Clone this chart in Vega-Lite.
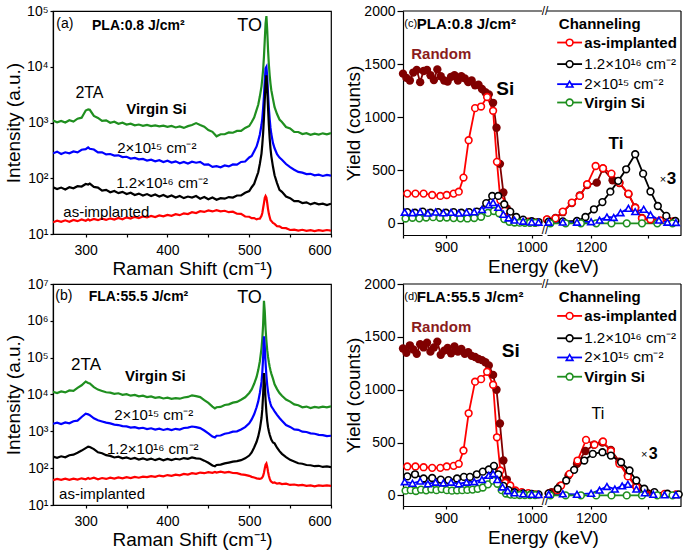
{
"$schema": "https://vega.github.io/schema/vega-lite/v6.json",
"padding": {"left": 3, "top": 3, "right": 0, "bottom": 0},
"autosize": {"type": "pad"},
"background": "white",
"config": {
  "font": "Liberation Sans",
  "view": {"stroke": null},
  "axis": {"grid": false, "labelFontSize": 14, "titleFontSize": 19, "titleFontWeight": "normal", "labelColor": "black", "titleColor": "black", "domainColor": "black", "tickColor": "black", "domainWidth": 1.2, "tickWidth": 1.2, "labelFont": "Liberation Sans", "titleFont": "Liberation Sans"},
  "text": {"color": "black", "font": "Liberation Sans"}
},
"resolve": {"scale": {"color": "independent"}},
"datasets": {
  "ramanA": [
    {"x":260,"g":1080,"b":280,"k":69,"r":16.2},{"x":265,"g":1010,"b":300,"k":64,"r":17.3},{"x":270,"g":1070,"b":272,"k":68,"r":16.5},{"x":275,"g":1000,"b":292,"k":63,"r":17.6},{"x":280,"g":1100,"b":280,"k":69,"r":16.6},{"x":285,"g":1040,"b":302,"k":66,"r":17.9},{"x":290,"g":1170,"b":292,"k":72,"r":17.0},{"x":295,"g":1220,"b":325,"k":71,"r":18.2},{"x":300,"g":1640,"b":332,"k":79,"r":17.3},{"x":303,"g":1720,"b":358,"k":77,"r":18.4},{"x":305,"g":1690,"b":338,"k":80,"r":17.5},{"x":310,"g":1310,"b":328,"k":70,"r":18.6},{"x":315,"g":1210,"b":292,"k":68,"r":17.7},{"x":320,"g":1070,"b":292,"k":60,"r":18.9},{"x":325,"g":1090,"b":268,"k":62,"r":17.9},{"x":330,"g":990,"b":272,"k":56,"r":19.1},{"x":335,"g":1030,"b":255,"k":59,"r":18.1},{"x":340,"g":950,"b":258,"k":54,"r":19.4},{"x":345,"g":990,"b":240,"k":57,"r":18.4},{"x":350,"g":920,"b":243,"k":52,"r":19.9},{"x":355,"g":950,"b":226,"k":55,"r":18.9},{"x":360,"g":890,"b":232,"k":50,"r":20.3},{"x":365,"g":920,"b":218,"k":53,"r":19.3},{"x":370,"g":870,"b":222,"k":49,"r":20.6},{"x":375,"g":905,"b":208,"k":52,"r":19.8},{"x":380,"g":860,"b":216,"k":48,"r":21.1},{"x":385,"g":890,"b":202,"k":51,"r":20.2},{"x":390,"g":850,"b":211,"k":47,"r":21.6},{"x":395,"g":880,"b":196,"k":50,"r":20.7},{"x":400,"g":835,"b":206,"k":46,"r":22.0},{"x":405,"g":865,"b":191,"k":49,"r":21.2},{"x":410,"g":815,"b":201,"k":45,"r":22.6},{"x":415,"g":850,"b":186,"k":48,"r":21.8},{"x":420,"g":800,"b":196,"k":44,"r":23.5},{"x":425,"g":860,"b":184,"k":47,"r":22.8},{"x":430,"g":900,"b":198,"k":45,"r":24.6},{"x":435,"g":975,"b":190,"k":48,"r":23.8},{"x":440,"g":900,"b":196,"k":43,"r":25.6},{"x":445,"g":840,"b":175,"k":46,"r":24.9},{"x":450,"g":730,"b":177,"k":42,"r":26.5},{"x":455,"g":680,"b":160,"k":45,"r":25.4},{"x":460,"g":565,"b":165,"k":41,"r":26.7},{"x":465,"g":615,"b":157,"k":44,"r":25.5},{"x":470,"g":615,"b":170,"k":43,"r":26.1},{"x":475,"g":665,"b":163,"k":46,"r":24.6},{"x":480,"g":655,"b":177,"k":45,"r":25.1},{"x":485,"g":705,"b":175,"k":49,"r":23.1},{"x":490,"g":705,"b":196,"k":49,"r":23.0},{"x":495,"g":800,"b":200,"k":55,"r":20.6},{"x":500,"g":865,"b":236,"k":59,"r":20.4},{"x":503,"g":1020,"b":250,"k":69,"r":19.2},{"x":506,"g":1230,"b":306,"k":79,"r":19.3},{"x":509,"g":1680,"b":372,"k":106,"r":18.3},{"x":511,"g":2080,"b":468,"k":128,"r":18.8},{"x":513,"g":2950,"b":610,"k":182,"r":18.9},{"x":515,"g":4450,"b":910,"k":277,"r":21.2},{"x":516,"g":6100,"b":1190,"k":405,"r":23.8},{"x":517,"g":8900,"b":1820,"k":645,"r":29.3},{"x":518,"g":15200,"b":2980,"k":1210,"r":35.6},{"x":519,"g":30000,"b":5500,"k":2500,"r":44.4},{"x":520,"g":60000,"b":9400,"k":5000,"r":48.0},{"x":521,"g":81000,"b":10000,"k":7000,"r":45.0},{"x":522,"g":45000,"b":6500,"k":4000,"r":36.0},{"x":523,"g":20000,"b":3200,"k":1800,"r":28.0},{"x":524,"g":11000,"b":1800,"k":900,"r":23.0},{"x":525,"g":7000,"b":1150,"k":520,"r":20.2},{"x":526,"g":5000,"b":800,"k":340,"r":17.8},{"x":527,"g":3800,"b":620,"k":250,"r":17.2},{"x":529,"g":2650,"b":430,"k":162,"r":15.8},{"x":531,"g":1880,"b":345,"k":113,"r":15.2},{"x":534,"g":1420,"b":270,"k":82,"r":13.8},{"x":537,"g":1130,"b":235,"k":62,"r":13.7},{"x":540,"g":1020,"b":215,"k":57,"r":12.8},{"x":545,"g":830,"b":180,"k":47,"r":12.7},{"x":550,"g":780,"b":158,"k":44,"r":11.8},{"x":555,"g":680,"b":142,"k":39,"r":12.0},{"x":560,"g":675,"b":130,"k":39,"r":11.5},{"x":565,"g":620,"b":126,"k":36,"r":11.9},{"x":570,"g":645,"b":119,"k":37,"r":11.4},{"x":575,"g":600,"b":120,"k":34,"r":11.7},{"x":580,"g":630,"b":113,"k":36,"r":11.3},{"x":585,"g":605,"b":116,"k":34,"r":11.7},{"x":590,"g":640,"b":110,"k":35,"r":11.4},{"x":595,"g":615,"b":115,"k":33,"r":11.8},{"x":600,"g":645,"b":111,"k":35,"r":11.5}
  ],
  "ramanB": [
    {"x":260,"g":11800,"b":1600,"k":205,"r":47},{"x":265,"g":10900,"b":1720,"k":192,"r":51},{"x":270,"g":12100,"b":1580,"k":210,"r":48},{"x":275,"g":11400,"b":1750,"k":198,"r":52},{"x":280,"g":12900,"b":1650,"k":225,"r":48},{"x":285,"g":12600,"b":1880,"k":232,"r":52},{"x":290,"g":15200,"b":1950,"k":262,"r":49},{"x":295,"g":17800,"b":2450,"k":300,"r":53},{"x":300,"g":22500,"b":3000,"k":350,"r":50},{"x":303,"g":20500,"b":2900,"k":385,"r":54},{"x":305,"g":20000,"b":2750,"k":375,"r":51},{"x":310,"g":15800,"b":2250,"k":330,"r":55},{"x":315,"g":13600,"b":2000,"k":270,"r":50},{"x":320,"g":12500,"b":1850,"k":255,"r":54},{"x":325,"g":11500,"b":1720,"k":225,"r":51},{"x":330,"g":11200,"b":1640,"k":215,"r":55},{"x":335,"g":10400,"b":1520,"k":195,"r":52},{"x":340,"g":10800,"b":1480,"k":205,"r":56},{"x":345,"g":9800,"b":1380,"k":185,"r":53},{"x":350,"g":10200,"b":1360,"k":195,"r":57},{"x":355,"g":9300,"b":1260,"k":178,"r":54},{"x":360,"g":9700,"b":1300,"k":190,"r":58},{"x":365,"g":8900,"b":1200,"k":172,"r":55},{"x":370,"g":9300,"b":1250,"k":185,"r":59},{"x":375,"g":8500,"b":1150,"k":168,"r":57},{"x":380,"g":8900,"b":1210,"k":182,"r":61},{"x":385,"g":8100,"b":1110,"k":165,"r":58},{"x":390,"g":8500,"b":1180,"k":180,"r":63},{"x":395,"g":7800,"b":1090,"k":163,"r":60},{"x":400,"g":8200,"b":1160,"k":178,"r":65},{"x":405,"g":7600,"b":1080,"k":165,"r":62},{"x":410,"g":8000,"b":1170,"k":180,"r":67},{"x":415,"g":7700,"b":1120,"k":172,"r":64},{"x":420,"g":8300,"b":1230,"k":188,"r":70},{"x":425,"g":8600,"b":1260,"k":180,"r":67},{"x":430,"g":9500,"b":1350,"k":195,"r":73},{"x":435,"g":9000,"b":1300,"k":185,"r":70},{"x":440,"g":8500,"b":1220,"k":180,"r":76},{"x":445,"g":7000,"b":1050,"k":160,"r":73},{"x":450,"g":5900,"b":880,"k":140,"r":78},{"x":455,"g":4700,"b":720,"k":118,"r":75},{"x":458,"g":4200,"b":680,"k":112,"r":79},{"x":460,"g":4500,"b":760,"k":122,"r":76},{"x":465,"g":4600,"b":770,"k":125,"r":80},{"x":470,"g":5200,"b":860,"k":135,"r":76},{"x":475,"g":5400,"b":900,"k":142,"r":79},{"x":480,"g":6000,"b":980,"k":150,"r":74},{"x":485,"g":6300,"b":1000,"k":155,"r":73},{"x":490,"g":7200,"b":1120,"k":165,"r":68},{"x":495,"g":8400,"b":1300,"k":185,"r":66},{"x":500,"g":11000,"b":1650,"k":220,"r":62},{"x":503,"g":13800,"b":2100,"k":268,"r":58},{"x":506,"g":19500,"b":2900,"k":365,"r":56},{"x":509,"g":30000,"b":4500,"k":520,"r":53},{"x":511,"g":46000,"b":6500,"k":730,"r":52},{"x":513,"g":80000,"b":11000,"k":1150,"r":51},{"x":515,"g":180000,"b":22000,"k":2300,"r":53},{"x":516,"g":330000,"b":40000,"k":4000,"r":56},{"x":517,"g":800000,"b":100000,"k":10000,"r":62},{"x":518,"g":3500000,"b":380000,"k":38000,"r":75},{"x":519,"g":1800000,"b":200000,"k":20000,"r":98},{"x":520,"g":600000,"b":70000,"k":7000,"r":125},{"x":521,"g":280000,"b":32000,"k":3300,"r":135},{"x":522,"g":160000,"b":18000,"k":1900,"r":110},{"x":523,"g":105000,"b":12000,"k":1300,"r":80},{"x":524,"g":75000,"b":8600,"k":1000,"r":62},{"x":525,"g":57000,"b":6800,"k":820,"r":52},{"x":526,"g":45000,"b":5600,"k":700,"r":46},{"x":527,"g":37000,"b":4800,"k":600,"r":43},{"x":529,"g":27000,"b":4100,"k":500,"r":40},{"x":531,"g":19000,"b":3500,"k":470,"r":41},{"x":534,"g":14000,"b":2800,"k":360,"r":38},{"x":537,"g":11000,"b":2300,"k":290,"r":39},{"x":540,"g":9200,"b":1950,"k":245,"r":37},{"x":545,"g":7300,"b":1480,"k":200,"r":38},{"x":550,"g":6400,"b":1320,"k":168,"r":35},{"x":555,"g":5400,"b":1130,"k":152,"r":36},{"x":560,"g":5100,"b":1100,"k":136,"r":34},{"x":565,"g":4500,"b":980,"k":132,"r":35},{"x":570,"g":4700,"b":960,"k":122,"r":33},{"x":575,"g":4300,"b":880,"k":120,"r":34},{"x":580,"g":4600,"b":860,"k":113,"r":32},{"x":585,"g":4400,"b":800,"k":116,"r":34},{"x":590,"g":4700,"b":790,"k":108,"r":33},{"x":595,"g":4500,"b":740,"k":112,"r":34},{"x":600,"g":4800,"b":760,"k":106,"r":33}
  ],
  "cSi": [
    {"s":"rnd","e":850,"v":1410},{"s":"rnd","e":854,"v":1370},{"s":"rnd","e":858,"v":1345},{"s":"rnd","e":862,"v":1420},{"s":"rnd","e":866,"v":1445},{"s":"rnd","e":870,"v":1330},{"s":"rnd","e":874,"v":1435},{"s":"rnd","e":878,"v":1445},{"s":"rnd","e":882,"v":1395},{"s":"rnd","e":886,"v":1350},{"s":"rnd","e":890,"v":1450},{"s":"rnd","e":894,"v":1385},{"s":"rnd","e":898,"v":1345},{"s":"rnd","e":902,"v":1335},{"s":"rnd","e":906,"v":1380},{"s":"rnd","e":910,"v":1395},{"s":"rnd","e":914,"v":1345},{"s":"rnd","e":918,"v":1385},{"s":"rnd","e":922,"v":1365},{"s":"rnd","e":926,"v":1330},{"s":"rnd","e":930,"v":1345},{"s":"rnd","e":934,"v":1300},{"s":"rnd","e":938,"v":1305},{"s":"rnd","e":942,"v":1265},{"s":"rnd","e":946,"v":1235},{"s":"rnd","e":950,"v":1215},{"s":"rnd","e":955,"v":1135},{"s":"rnd","e":959,"v":900},{"s":"rnd","e":963,"v":560},{"s":"rnd","e":967,"v":290},{"s":"rnd","e":971,"v":140},{"s":"rnd","e":975,"v":75},
    {"s":"r","e":855,"v":280},{"s":"r","e":864.5,"v":280},{"s":"r","e":874,"v":280},{"s":"r","e":884,"v":267},{"s":"r","e":893.5,"v":258},{"s":"r","e":901,"v":267},{"s":"r","e":909,"v":280},{"s":"r","e":915,"v":298},{"s":"r","e":920.5,"v":431},{"s":"r","e":926.5,"v":783},{"s":"r","e":934,"v":1085},{"s":"r","e":941,"v":1100},{"s":"r","e":948,"v":1190},{"s":"r","e":955,"v":1060},{"s":"r","e":959.5,"v":579},{"s":"r","e":963.5,"v":217},{"s":"r","e":968.5,"v":120},{"s":"r","e":975,"v":60},{"s":"r","e":981,"v":40},{"s":"r","e":988.5,"v":22},{"s":"r","e":996,"v":15},{"s":"r","e":1004,"v":8},
    {"s":"k","e":855,"v":105},{"s":"k","e":864,"v":100},{"s":"k","e":873,"v":110},{"s":"k","e":882,"v":100},{"s":"k","e":891,"v":105},{"s":"k","e":900,"v":100},{"s":"k","e":909,"v":105},{"s":"k","e":918,"v":100},{"s":"k","e":927,"v":105},{"s":"k","e":936,"v":110},{"s":"k","e":947,"v":190},{"s":"k","e":954,"v":258},{"s":"k","e":961,"v":258},{"s":"k","e":968,"v":180},{"s":"k","e":975,"v":110},{"s":"k","e":982,"v":60},{"s":"k","e":990,"v":35},{"s":"k","e":1000,"v":20},{"s":"k","e":1008,"v":12},
    {"s":"b","e":852,"v":105},{"s":"b","e":861,"v":100},{"s":"b","e":870,"v":108},{"s":"b","e":879,"v":96},{"s":"b","e":888,"v":106},{"s":"b","e":897,"v":99},{"s":"b","e":906,"v":103},{"s":"b","e":915,"v":96},{"s":"b","e":924,"v":104},{"s":"b","e":933,"v":108},{"s":"b","e":942,"v":130},{"s":"b","e":950,"v":175},{"s":"b","e":955,"v":195},{"s":"b","e":961,"v":150},{"s":"b","e":967,"v":85},{"s":"b","e":973,"v":50},{"s":"b","e":980,"v":30},{"s":"b","e":990,"v":20},{"s":"b","e":1000,"v":12},{"s":"b","e":1008,"v":10},
    {"s":"g","e":853,"v":45},{"s":"g","e":861,"v":52},{"s":"g","e":869,"v":47},{"s":"g","e":877,"v":55},{"s":"g","e":885,"v":58},{"s":"g","e":893,"v":52},{"s":"g","e":901,"v":55},{"s":"g","e":909,"v":49},{"s":"g","e":917,"v":47},{"s":"g","e":925,"v":46},{"s":"g","e":933,"v":50},{"s":"g","e":941,"v":62},{"s":"g","e":949,"v":98},{"s":"g","e":956,"v":116},{"s":"g","e":962,"v":95},{"s":"g","e":968,"v":40},{"s":"g","e":974,"v":15},{"s":"g","e":980,"v":8},{"s":"g","e":986,"v":6},{"s":"g","e":992,"v":5},{"s":"g","e":998,"v":4},{"s":"g","e":1004,"v":4}
  ],
  "cTi": [
    {"s":"rnd","e":1122,"v":35},{"s":"rnd","e":1137,"v":50},{"s":"rnd","e":1150,"v":105},{"s":"rnd","e":1166,"v":190},{"s":"rnd","e":1180,"v":262},{"s":"rnd","e":1193,"v":360},{"s":"rnd","e":1210,"v":383},{"s":"rnd","e":1221,"v":515},{"s":"rnd","e":1238,"v":405},{"s":"rnd","e":1250,"v":380},{"s":"rnd","e":1266,"v":275},{"s":"rnd","e":1278,"v":150},{"s":"rnd","e":1290,"v":50},{"s":"rnd","e":1305,"v":35},
    {"s":"r","e":1122,"v":38},{"s":"r","e":1137,"v":47},{"s":"r","e":1150,"v":110},{"s":"r","e":1166,"v":195},{"s":"r","e":1180,"v":258},{"s":"r","e":1193,"v":368},{"s":"r","e":1208,"v":540},{"s":"r","e":1221,"v":519},{"s":"r","e":1236,"v":468},{"s":"r","e":1250,"v":383},{"s":"r","e":1266,"v":279},{"s":"r","e":1278,"v":147},{"s":"r","e":1290,"v":47},{"s":"r","e":1305,"v":38},{"s":"r","e":1322,"v":28},{"s":"r","e":1346,"v":20},
    {"s":"k","e":1125,"v":15},{"s":"k","e":1150,"v":18},{"s":"k","e":1175,"v":22},{"s":"k","e":1190,"v":60},{"s":"k","e":1205,"v":132},{"s":"k","e":1220,"v":200},{"s":"k","e":1234,"v":298},{"s":"k","e":1248,"v":400},{"s":"k","e":1262,"v":509},{"s":"k","e":1278,"v":651},{"s":"k","e":1292,"v":468},{"s":"k","e":1305,"v":300},{"s":"k","e":1318,"v":163},{"s":"k","e":1333,"v":70},{"s":"k","e":1349,"v":22},
    {"s":"b","e":1125,"v":10},{"s":"b","e":1150,"v":12},{"s":"b","e":1175,"v":10},{"s":"b","e":1200,"v":15},{"s":"b","e":1215,"v":30},{"s":"b","e":1228,"v":60},{"s":"b","e":1240,"v":55},{"s":"b","e":1252,"v":100},{"s":"b","e":1266,"v":141},{"s":"b","e":1278,"v":110},{"s":"b","e":1293,"v":132},{"s":"b","e":1305,"v":80},{"s":"b","e":1320,"v":30},{"s":"b","e":1335,"v":10},{"s":"b","e":1350,"v":8},
    {"s":"g","e":1128,"v":0},{"s":"g","e":1155,"v":0},{"s":"g","e":1182,"v":0},{"s":"g","e":1209,"v":0},{"s":"g","e":1236,"v":0},{"s":"g","e":1263,"v":0},{"s":"g","e":1290,"v":0},{"s":"g","e":1317,"v":0},{"s":"g","e":1344,"v":0}
  ],
  "dSi": [
    {"s":"rnd","e":850,"v":1390},{"s":"rnd","e":854,"v":1350},{"s":"rnd","e":858,"v":1420},{"s":"rnd","e":862,"v":1380},{"s":"rnd","e":866,"v":1340},{"s":"rnd","e":870,"v":1430},{"s":"rnd","e":874,"v":1400},{"s":"rnd","e":878,"v":1445},{"s":"rnd","e":882,"v":1360},{"s":"rnd","e":886,"v":1400},{"s":"rnd","e":890,"v":1455},{"s":"rnd","e":894,"v":1330},{"s":"rnd","e":898,"v":1370},{"s":"rnd","e":902,"v":1395},{"s":"rnd","e":906,"v":1345},{"s":"rnd","e":910,"v":1410},{"s":"rnd","e":914,"v":1360},{"s":"rnd","e":918,"v":1385},{"s":"rnd","e":922,"v":1340},{"s":"rnd","e":926,"v":1355},{"s":"rnd","e":930,"v":1320},{"s":"rnd","e":934,"v":1310},{"s":"rnd","e":938,"v":1290},{"s":"rnd","e":942,"v":1280},{"s":"rnd","e":946,"v":1260},{"s":"rnd","e":950,"v":1230},{"s":"rnd","e":955,"v":1140},{"s":"rnd","e":959,"v":1000},{"s":"rnd","e":963,"v":680},{"s":"rnd","e":967,"v":330},{"s":"rnd","e":971,"v":150},{"s":"rnd","e":975,"v":70},
    {"s":"r","e":855,"v":274},{"s":"r","e":864.5,"v":274},{"s":"r","e":874,"v":267},{"s":"r","e":884,"v":261},{"s":"r","e":893.5,"v":261},{"s":"r","e":901,"v":274},{"s":"r","e":909,"v":280},{"s":"r","e":915,"v":299},{"s":"r","e":920.5,"v":425},{"s":"r","e":926.5,"v":777},{"s":"r","e":934,"v":1076},{"s":"r","e":941,"v":1100},{"s":"r","e":948,"v":1170},{"s":"r","e":955,"v":1047},{"s":"r","e":959.5,"v":550},{"s":"r","e":963.5,"v":236},{"s":"r","e":969,"v":120},{"s":"r","e":975,"v":94},{"s":"r","e":981,"v":47},{"s":"r","e":988.5,"v":31},{"s":"r","e":996,"v":22},{"s":"r","e":1004,"v":9},
    {"s":"k","e":855,"v":180},{"s":"k","e":864,"v":200},{"s":"k","e":874,"v":160},{"s":"k","e":884,"v":165},{"s":"k","e":894,"v":150},{"s":"k","e":903,"v":145},{"s":"k","e":913,"v":160},{"s":"k","e":921,"v":175},{"s":"k","e":928,"v":175},{"s":"k","e":936,"v":200},{"s":"k","e":943,"v":225},{"s":"k","e":950,"v":245},{"s":"k","e":956,"v":280},{"s":"k","e":961,"v":200},{"s":"k","e":967,"v":90},{"s":"k","e":973,"v":50},{"s":"k","e":980,"v":30},{"s":"k","e":990,"v":20},{"s":"k","e":1000,"v":15},{"s":"k","e":1008,"v":10},
    {"s":"b","e":852,"v":130},{"s":"b","e":861,"v":115},{"s":"b","e":870,"v":135},{"s":"b","e":879,"v":110},{"s":"b","e":888,"v":125},{"s":"b","e":897,"v":118},{"s":"b","e":906,"v":125},{"s":"b","e":915,"v":110},{"s":"b","e":924,"v":125},{"s":"b","e":933,"v":130},{"s":"b","e":942,"v":150},{"s":"b","e":950,"v":190},{"s":"b","e":955,"v":205},{"s":"b","e":960,"v":150},{"s":"b","e":966,"v":80},{"s":"b","e":972,"v":45},{"s":"b","e":980,"v":25},{"s":"b","e":990,"v":15},{"s":"b","e":1000,"v":10},{"s":"b","e":1008,"v":8},
    {"s":"g","e":853,"v":45},{"s":"g","e":859,"v":50},{"s":"g","e":865,"v":42},{"s":"g","e":871,"v":55},{"s":"g","e":877,"v":48},{"s":"g","e":883,"v":58},{"s":"g","e":889,"v":50},{"s":"g","e":895,"v":60},{"s":"g","e":901,"v":50},{"s":"g","e":907,"v":45},{"s":"g","e":913,"v":48},{"s":"g","e":919,"v":50},{"s":"g","e":925,"v":52},{"s":"g","e":931,"v":55},{"s":"g","e":937,"v":62},{"s":"g","e":943,"v":75},{"s":"g","e":949,"v":105},{"s":"g","e":955,"v":140},{"s":"g","e":960,"v":110},{"s":"g","e":965,"v":50},{"s":"g","e":970,"v":18},{"s":"g","e":975,"v":8},{"s":"g","e":980,"v":5},{"s":"g","e":986,"v":4},{"s":"g","e":992,"v":4},{"s":"g","e":998,"v":4},{"s":"g","e":1004,"v":4}
  ],
  "dTi": [
    {"s":"rnd","e":1130,"v":30},{"s":"rnd","e":1145,"v":90},{"s":"rnd","e":1160,"v":190},{"s":"rnd","e":1175,"v":300},{"s":"rnd","e":1190,"v":420},{"s":"rnd","e":1205,"v":480},{"s":"rnd","e":1220,"v":500},{"s":"rnd","e":1235,"v":430},{"s":"rnd","e":1250,"v":320},{"s":"rnd","e":1265,"v":190},{"s":"rnd","e":1280,"v":90},{"s":"rnd","e":1295,"v":40},{"s":"rnd","e":1310,"v":20},
    {"s":"r","e":1125,"v":20},{"s":"r","e":1140,"v":50},{"s":"r","e":1147,"v":94},{"s":"r","e":1162,"v":204},{"s":"r","e":1176,"v":330},{"s":"r","e":1191,"v":525},{"s":"r","e":1206,"v":480},{"s":"r","e":1221,"v":510},{"s":"r","e":1235,"v":420},{"s":"r","e":1250,"v":300},{"s":"r","e":1265,"v":180},{"s":"r","e":1280,"v":80},{"s":"r","e":1294,"v":31},{"s":"r","e":1310,"v":20},{"s":"r","e":1330,"v":15},{"s":"r","e":1350,"v":10},
    {"s":"k","e":1125,"v":20},{"s":"k","e":1141,"v":63},{"s":"k","e":1156,"v":141},{"s":"k","e":1170,"v":242},{"s":"k","e":1188,"v":330},{"s":"k","e":1203,"v":393},{"s":"k","e":1220,"v":409},{"s":"k","e":1235,"v":377},{"s":"k","e":1253,"v":314},{"s":"k","e":1268,"v":236},{"s":"k","e":1280,"v":141},{"s":"k","e":1294,"v":63},{"s":"k","e":1312,"v":31},{"s":"k","e":1335,"v":16},{"s":"k","e":1355,"v":10},
    {"s":"b","e":1125,"v":10},{"s":"b","e":1150,"v":15},{"s":"b","e":1175,"v":10},{"s":"b","e":1200,"v":20},{"s":"b","e":1215,"v":50},{"s":"b","e":1228,"v":85},{"s":"b","e":1242,"v":60},{"s":"b","e":1255,"v":90},{"s":"b","e":1265,"v":105},{"s":"b","e":1280,"v":60},{"s":"b","e":1295,"v":25},{"s":"b","e":1310,"v":10},{"s":"b","e":1330,"v":5},{"s":"b","e":1350,"v":5},
    {"s":"g","e":1128,"v":0},{"s":"g","e":1155,"v":0},{"s":"g","e":1182,"v":0},{"s":"g","e":1209,"v":0},{"s":"g","e":1236,"v":0},{"s":"g","e":1263,"v":0},{"s":"g","e":1290,"v":0},{"s":"g","e":1317,"v":0},{"s":"g","e":1344,"v":0}
  ]
},
"columns": 4,
"bounds": "flush",
"spacing": {"row": 49, "column": 5},
"concat": [
  {
    "width": 278, "height": 223,
    "view": {"stroke": "black", "strokeWidth": 1.2},
    "layer": [
      {"data": {"name": "ramanA"}, "transform": [{"fold": ["g","b","k","r"], "as": ["s","I"]}],
       "mark": {"type": "line", "strokeWidth": 2.2, "clip": true},
       "encoding": {
         "x": {"field": "x", "type": "quantitative", "scale": {"domain": [260,600], "nice": false, "zero": false},
               "axis": {"values": [300,350,400,450,500,550,600], "labelExpr": "datum.value % 100 == 0 ? datum.label : ''", "tickSize": 3, "labelPadding": 6, "title": "Raman Shift (cm⁻¹)", "titlePadding": 2, "format": "d"}},
         "y": {"field": "I", "type": "quantitative", "scale": {"type": "log", "domain": [10,100000], "nice": false},
               "axis": {"values": [10,100,1000,10000,100000], "labelExpr": "datum.value > 5e6 ? '10⁷' : datum.value > 5e5 ? '10⁶' : datum.value > 5e4 ? '10⁵' : datum.value > 5e3 ? '10⁴' : datum.value > 500 ? '10³' : datum.value > 50 ? '10²' : '10¹'", "tickSize": 3, "labelPadding": 2, "title": "Intensity (a.u.)", "titlePadding": 3}},
         "color": {"field": "s", "type": "nominal", "scale": {"domain": ["rnd","r","k","b","g"], "range": ["#800000","#ff0000","#000000","#0000ff","#1f8f1f"]}, "legend": null}
       }},
      {"data": {"values": [{"x": 264, "I": 58000, "t": "(a)"}]},
       "mark": {"type": "text", "align": "left", "baseline": "middle", "fontSize": 14},
       "encoding": {"x": {"field": "x", "type": "quantitative", "scale": {"domain": [260,600], "nice": false, "zero": false}}, "y": {"field": "I", "type": "quantitative", "scale": {"type": "log", "domain": [10,100000], "nice": false}}, "text": {"field": "t"}}},
      {"data": {"values": [{"x": 307.7, "I": 53700, "t": "PLA:0.8 J/cm²"}]},
       "mark": {"type": "text", "align": "left", "baseline": "middle", "fontSize": 14, "fontWeight": "bold"},
       "encoding": {"x": {"field": "x", "type": "quantitative", "scale": {"domain": [260,600], "nice": false, "zero": false}}, "y": {"field": "I", "type": "quantitative", "scale": {"type": "log", "domain": [10,100000], "nice": false}}, "text": {"field": "t"}}},
      {"data": {"values": [{"x": 500.4, "I": 53700, "t": "TO"}]},
       "mark": {"type": "text", "align": "center", "baseline": "middle", "fontSize": 18},
       "encoding": {"x": {"field": "x", "type": "quantitative", "scale": {"domain": [260,600], "nice": false, "zero": false}}, "y": {"field": "I", "type": "quantitative", "scale": {"type": "log", "domain": [10,100000], "nice": false}}, "text": {"field": "t"}}},
      {"data": {"values": [{"x": 304.6, "I": 3410, "t": "2TA"}]},
       "mark": {"type": "text", "align": "center", "baseline": "middle", "fontSize": 16},
       "encoding": {"x": {"field": "x", "type": "quantitative", "scale": {"domain": [260,600], "nice": false, "zero": false}}, "y": {"field": "I", "type": "quantitative", "scale": {"type": "log", "domain": [10,100000], "nice": false}}, "text": {"field": "t"}}},
      {"data": {"values": [{"x": 386.5, "I": 1720, "t": "Virgin Si"}]},
       "mark": {"type": "text", "align": "center", "baseline": "middle", "fontSize": 15, "fontWeight": "bold"},
       "encoding": {"x": {"field": "x", "type": "quantitative", "scale": {"domain": [260,600], "nice": false, "zero": false}}, "y": {"field": "I", "type": "quantitative", "scale": {"type": "log", "domain": [10,100000], "nice": false}}, "text": {"field": "t"}}},
      {"data": {"values": [{"x": 387, "I": 352, "t": "2×10¹⁵ cm⁻²"}, {"x": 393.4, "I": 82.6, "t": "1.2×10¹⁶ cm⁻²"}, {"x": 325.2, "I": 24.8, "t": "as-implanted"}]},
       "mark": {"type": "text", "align": "center", "baseline": "middle", "fontSize": 15},
       "encoding": {"x": {"field": "x", "type": "quantitative", "scale": {"domain": [260,600], "nice": false, "zero": false}}, "y": {"field": "I", "type": "quantitative", "scale": {"type": "log", "domain": [10,100000], "nice": false}}, "text": {"field": "t"}}}
    ]
  },
  {"width": 62, "height": 224, "data": {"values": [{}]}, "mark": {"type": "point", "opacity": 0}},
  {
    "width": 139, "height": 224,
    "layer": [
      {"data": {"name": "cSi"}, "mark": {"type": "line", "strokeWidth": 1.8},
       "encoding": {
         "x": {"field": "e", "type": "quantitative", "scale": {"domain": [850,1012], "nice": false, "zero": false},
               "axis": {"values": [850,900,950,1000], "labelExpr": "datum.value == 900 || datum.value == 1000 ? datum.label : ''", "tickSize": 3, "labelPadding": 2, "title": "Energy (keV)", "titleX": 140, "titleAlign": "center", "titlePadding": 3, "format": "d"}},
         "y": {"field": "v", "type": "quantitative", "scale": {"domain": [-110,2000], "nice": false, "zero": false},
               "axis": {"values": [0,250,500,750,1000,1250,1500,1750,2000], "labelExpr": "datum.value % 500 == 0 ? datum.label : ''", "tickSize": {"condition": {"test": "datum.value % 500 != 0", "value": 3}, "value": 6}, "labelPadding": 2, "title": "Yield (counts)", "titlePadding": 0, "format": "d"}},
         "color": {"field": "s", "type": "nominal", "scale": {"domain": ["rnd","r","k","b","g"], "range": ["#800000","#ff0000","#000000","#0000ff","#1f8f1f"]}, "legend": null}
       }},
      {"data": {"values": [{}]}, "mark": {"type": "rule", "color": "black", "strokeWidth": 1.2},
       "encoding": {"x": {"datum": 850, "type": "quantitative", "scale": {"domain": [850,1012], "nice": false, "zero": false}}, "x2": {"datum": 1012}, "y": {"datum": 2000, "type": "quantitative", "scale": {"domain": [-110,2000], "nice": false, "zero": false}}}},
      {"data": {"name": "cSi"}, "transform": [{"filter": "datum.s == 'rnd'"}],
       "mark": {"type": "point", "shape": "circle", "filled": true, "size": 70, "opacity": 1},
       "encoding": {"x": {"field": "e", "type": "quantitative", "scale": {"domain": [850,1012], "nice": false, "zero": false}}, "y": {"field": "v", "type": "quantitative", "scale": {"domain": [-110,2000], "nice": false, "zero": false}}, "color": {"field": "s", "type": "nominal", "scale": {"domain": ["rnd","r","k","b","g"], "range": ["#800000","#ff0000","#000000","#0000ff","#1f8f1f"]}, "legend": null}}},
      {"data": {"name": "cSi"}, "transform": [{"filter": "datum.s == 'r' || datum.s == 'k' || datum.s == 'g'"}],
       "mark": {"type": "point", "shape": "circle", "filled": false, "fill": "white", "fillOpacity": 1, "size": 45, "strokeWidth": 1.6, "opacity": 1},
       "encoding": {"x": {"field": "e", "type": "quantitative", "scale": {"domain": [850,1012], "nice": false, "zero": false}}, "y": {"field": "v", "type": "quantitative", "scale": {"domain": [-110,2000], "nice": false, "zero": false}}, "color": {"field": "s", "type": "nominal", "scale": {"domain": ["rnd","r","k","b","g"], "range": ["#800000","#ff0000","#000000","#0000ff","#1f8f1f"]}, "legend": null}}},
      {"data": {"name": "cSi"}, "transform": [{"filter": "datum.s == 'b'"}],
       "mark": {"type": "point", "shape": "triangle-up", "filled": false, "fill": "white", "fillOpacity": 1, "size": 45, "strokeWidth": 1.6, "opacity": 1},
       "encoding": {"x": {"field": "e", "type": "quantitative", "scale": {"domain": [850,1012], "nice": false, "zero": false}}, "y": {"field": "v", "type": "quantitative", "scale": {"domain": [-110,2000], "nice": false, "zero": false}}, "color": {"field": "s", "type": "nominal", "scale": {"domain": ["rnd","r","k","b","g"], "range": ["#800000","#ff0000","#000000","#0000ff","#1f8f1f"]}, "legend": null}}},
      {"data": {"values": [{"e": 851.5, "v": 1877, "t": "(c)"}]},
       "mark": {"type": "text", "align": "left", "baseline": "middle", "fontSize": 11},
       "encoding": {"x": {"field": "e", "type": "quantitative", "scale": {"domain": [850,1012], "nice": false, "zero": false}}, "y": {"field": "v", "type": "quantitative", "scale": {"domain": [-110,2000], "nice": false, "zero": false}}, "text": {"field": "t"}}},
      {"data": {"values": [{"e": 866, "v": 1877, "t": "PLA:0.8 J/cm²"}]},
       "mark": {"type": "text", "align": "left", "baseline": "middle", "fontSize": 15, "fontWeight": "bold"},
       "encoding": {"x": {"field": "e", "type": "quantitative", "scale": {"domain": [850,1012], "nice": false, "zero": false}}, "y": {"field": "v", "type": "quantitative", "scale": {"domain": [-110,2000], "nice": false, "zero": false}}, "text": {"field": "t"}}},
      {"data": {"values": [{"e": 894.6, "v": 1594, "t": "Random"}]},
       "mark": {"type": "text", "align": "center", "baseline": "middle", "fontSize": 15, "fontWeight": "bold", "color": "#8b1c1c"},
       "encoding": {"x": {"field": "e", "type": "quantitative", "scale": {"domain": [850,1012], "nice": false, "zero": false}}, "y": {"field": "v", "type": "quantitative", "scale": {"domain": [-110,2000], "nice": false, "zero": false}}, "text": {"field": "t"}}},
      {"data": {"values": [{"e": 969.2, "v": 1264, "t": "Si"}]},
       "mark": {"type": "text", "align": "center", "baseline": "middle", "fontSize": 19, "fontWeight": "bold"},
       "encoding": {"x": {"field": "e", "type": "quantitative", "scale": {"domain": [850,1012], "nice": false, "zero": false}}, "y": {"field": "v", "type": "quantitative", "scale": {"domain": [-110,2000], "nice": false, "zero": false}}, "text": {"field": "t"}}},
      {"data": {"values": [{"v": 2000}, {"v": -65}]},
       "mark": {"type": "text", "align": "center", "baseline": "middle", "fontSize": 12, "dx": 3, "text": "//"},
       "encoding": {"x": {"datum": 1012, "type": "quantitative", "scale": {"domain": [850,1012], "nice": false, "zero": false}}, "y": {"field": "v", "type": "quantitative", "scale": {"domain": [-110,2000], "nice": false, "zero": false}}}}
    ]
  },
  {
    "width": 134, "height": 224,
    "layer": [
      {"data": {"name": "cTi"}, "mark": {"type": "line", "strokeWidth": 1.8},
       "encoding": {
         "x": {"field": "e", "type": "quantitative", "scale": {"domain": [1122,1359], "nice": false, "zero": false},
               "axis": {"values": [1200,1300], "labelExpr": "datum.value == 1200 ? '1200' : ''", "tickSize": 3, "labelPadding": 2, "title": null}},
         "y": {"field": "v", "type": "quantitative", "scale": {"domain": [-110,2000], "nice": false, "zero": false}, "axis": null},
         "color": {"field": "s", "type": "nominal", "scale": {"domain": ["rnd","r","k","b","g"], "range": ["#800000","#ff0000","#000000","#0000ff","#1f8f1f"]}, "legend": null}
       }},
      {"data": {"values": [{}]}, "mark": {"type": "rule", "color": "black", "strokeWidth": 1.2},
       "encoding": {"x": {"datum": 1122, "type": "quantitative", "scale": {"domain": [1122,1359], "nice": false, "zero": false}}, "x2": {"datum": 1359}, "y": {"datum": 2000, "type": "quantitative", "scale": {"domain": [-110,2000], "nice": false, "zero": false}, "axis": null}}},
      {"data": {"values": [{}]}, "mark": {"type": "rule", "color": "black", "strokeWidth": 1.2},
       "encoding": {"x": {"datum": 1359, "type": "quantitative", "scale": {"domain": [1122,1359], "nice": false, "zero": false}}, "y": {"datum": -110, "type": "quantitative", "scale": {"domain": [-110,2000], "nice": false, "zero": false}, "axis": null}, "y2": {"datum": 2000}}},
      {"data": {"name": "cTi"}, "transform": [{"filter": "datum.s == 'rnd'"}],
       "mark": {"type": "point", "shape": "circle", "filled": true, "size": 70, "opacity": 1},
       "encoding": {"x": {"field": "e", "type": "quantitative", "scale": {"domain": [1122,1359], "nice": false, "zero": false}}, "y": {"field": "v", "type": "quantitative", "scale": {"domain": [-110,2000], "nice": false, "zero": false}, "axis": null}, "color": {"field": "s", "type": "nominal", "scale": {"domain": ["rnd","r","k","b","g"], "range": ["#800000","#ff0000","#000000","#0000ff","#1f8f1f"]}, "legend": null}}},
      {"data": {"name": "cTi"}, "transform": [{"filter": "datum.s == 'r' || datum.s == 'k' || datum.s == 'g'"}],
       "mark": {"type": "point", "shape": "circle", "filled": false, "fill": "white", "fillOpacity": 1, "size": 45, "strokeWidth": 1.6, "opacity": 1},
       "encoding": {"x": {"field": "e", "type": "quantitative", "scale": {"domain": [1122,1359], "nice": false, "zero": false}}, "y": {"field": "v", "type": "quantitative", "scale": {"domain": [-110,2000], "nice": false, "zero": false}, "axis": null}, "color": {"field": "s", "type": "nominal", "scale": {"domain": ["rnd","r","k","b","g"], "range": ["#800000","#ff0000","#000000","#0000ff","#1f8f1f"]}, "legend": null}}},
      {"data": {"name": "cTi"}, "transform": [{"filter": "datum.s == 'b'"}],
       "mark": {"type": "point", "shape": "triangle-up", "filled": false, "fill": "white", "fillOpacity": 1, "size": 45, "strokeWidth": 1.6, "opacity": 1},
       "encoding": {"x": {"field": "e", "type": "quantitative", "scale": {"domain": [1122,1359], "nice": false, "zero": false}}, "y": {"field": "v", "type": "quantitative", "scale": {"domain": [-110,2000], "nice": false, "zero": false}, "axis": null}, "color": {"field": "s", "type": "nominal", "scale": {"domain": ["rnd","r","k","b","g"], "range": ["#800000","#ff0000","#000000","#0000ff","#1f8f1f"]}, "legend": null}}},
      {"data": {"values": [{"s": "r", "e": 1140, "e2": 1184, "v": 1703}, {"s": "k", "e": 1140, "e2": 1184, "v": 1500}, {"s": "b", "e": 1140, "e2": 1184, "v": 1311}, {"s": "g", "e": 1140, "e2": 1184, "v": 1138}]},
       "mark": {"type": "rule", "strokeWidth": 1.8},
       "encoding": {"x": {"field": "e", "type": "quantitative", "scale": {"domain": [1122,1359], "nice": false, "zero": false}}, "x2": {"field": "e2"}, "y": {"field": "v", "type": "quantitative", "scale": {"domain": [-110,2000], "nice": false, "zero": false}, "axis": null}, "color": {"field": "s", "type": "nominal", "scale": {"domain": ["rnd","r","k","b","g"], "range": ["#800000","#ff0000","#000000","#0000ff","#1f8f1f"]}, "legend": null}}},
      {"data": {"values": [{"s": "r", "e": 1162, "v": 1703}, {"s": "k", "e": 1162, "v": 1500}, {"s": "g", "e": 1162, "v": 1138}]},
       "mark": {"type": "point", "shape": "circle", "filled": false, "fill": "white", "fillOpacity": 1, "size": 45, "strokeWidth": 1.6, "opacity": 1},
       "encoding": {"x": {"field": "e", "type": "quantitative", "scale": {"domain": [1122,1359], "nice": false, "zero": false}}, "y": {"field": "v", "type": "quantitative", "scale": {"domain": [-110,2000], "nice": false, "zero": false}, "axis": null}, "color": {"field": "s", "type": "nominal", "scale": {"domain": ["rnd","r","k","b","g"], "range": ["#800000","#ff0000","#000000","#0000ff","#1f8f1f"]}, "legend": null}}},
      {"data": {"values": [{"s": "b", "e": 1162, "v": 1311}]},
       "mark": {"type": "point", "shape": "triangle-up", "filled": false, "fill": "white", "fillOpacity": 1, "size": 45, "strokeWidth": 1.6, "opacity": 1},
       "encoding": {"x": {"field": "e", "type": "quantitative", "scale": {"domain": [1122,1359], "nice": false, "zero": false}}, "y": {"field": "v", "type": "quantitative", "scale": {"domain": [-110,2000], "nice": false, "zero": false}, "axis": null}, "color": {"field": "s", "type": "nominal", "scale": {"domain": ["rnd","r","k","b","g"], "range": ["#800000","#ff0000","#000000","#0000ff","#1f8f1f"]}, "legend": null}}},
      {"data": {"values": [{"e": 1143, "v": 1877, "t": "Channeling"}, {"e": 1188, "v": 1703, "t": "as-implanted"}, {"e": 1188, "v": 1138, "t": "Virgin Si"}]},
       "mark": {"type": "text", "align": "left", "baseline": "middle", "fontSize": 15, "fontWeight": "bold"},
       "encoding": {"x": {"field": "e", "type": "quantitative", "scale": {"domain": [1122,1359], "nice": false, "zero": false}}, "y": {"field": "v", "type": "quantitative", "scale": {"domain": [-110,2000], "nice": false, "zero": false}, "axis": null}, "text": {"field": "t"}}},
      {"data": {"values": [{"e": 1188, "v": 1500, "t": "1.2×10¹⁶ cm⁻²"}, {"e": 1188, "v": 1311, "t": "2×10¹⁵ cm⁻²"}]},
       "mark": {"type": "text", "align": "left", "baseline": "middle", "fontSize": 15},
       "encoding": {"x": {"field": "e", "type": "quantitative", "scale": {"domain": [1122,1359], "nice": false, "zero": false}}, "y": {"field": "v", "type": "quantitative", "scale": {"domain": [-110,2000], "nice": false, "zero": false}, "axis": null}, "text": {"field": "t"}}},
      {"data": {"values": [{"e": 1244, "v": 745, "t": "Ti"}, {"e": 1342, "v": 415, "t": "3"}]},
       "mark": {"type": "text", "align": "center", "baseline": "middle", "fontSize": 17, "fontWeight": "bold"},
       "encoding": {"x": {"field": "e", "type": "quantitative", "scale": {"domain": [1122,1359], "nice": false, "zero": false}}, "y": {"field": "v", "type": "quantitative", "scale": {"domain": [-110,2000], "nice": false, "zero": false}, "axis": null}, "text": {"field": "t"}}},
      {"data": {"values": [{"e": 1327, "v": 405, "t": "×"}]},
       "mark": {"type": "text", "align": "center", "baseline": "middle", "fontSize": 11},
       "encoding": {"x": {"field": "e", "type": "quantitative", "scale": {"domain": [1122,1359], "nice": false, "zero": false}}, "y": {"field": "v", "type": "quantitative", "scale": {"domain": [-110,2000], "nice": false, "zero": false}, "axis": null}, "text": {"field": "t"}}}
    ]
  },
  {
    "width": 278, "height": 221,
    "view": {"stroke": "black", "strokeWidth": 1.2},
    "layer": [
      {"data": {"name": "ramanB"}, "transform": [{"fold": ["g","b","k","r"], "as": ["s","I"]}],
       "mark": {"type": "line", "strokeWidth": 2.2, "clip": true},
       "encoding": {
         "x": {"field": "x", "type": "quantitative", "scale": {"domain": [260,600], "nice": false, "zero": false},
               "axis": {"values": [300,350,400,450,500,550,600], "labelExpr": "datum.value % 100 == 0 ? datum.label : ''", "tickSize": 3, "labelPadding": 6, "title": "Raman Shift (cm⁻¹)", "titlePadding": 2, "format": "d"}},
         "y": {"field": "I", "type": "quantitative", "scale": {"type": "log", "domain": [10,10000000], "nice": false},
               "axis": {"values": [10,100,1000,10000,100000,1000000,10000000], "labelExpr": "datum.value > 5e6 ? '10⁷' : datum.value > 5e5 ? '10⁶' : datum.value > 5e4 ? '10⁵' : datum.value > 5e3 ? '10⁴' : datum.value > 500 ? '10³' : datum.value > 50 ? '10²' : '10¹'", "tickSize": 3, "labelPadding": 2, "title": "Intensity (a.u.)", "titlePadding": 3}},
         "color": {"field": "s", "type": "nominal", "scale": {"domain": ["rnd","r","k","b","g"], "range": ["#800000","#ff0000","#000000","#0000ff","#1f8f1f"]}, "legend": null}
       }},
      {"data": {"values": [{"x": 262.8, "I": 4800000, "t": "(b)"}]},
       "mark": {"type": "text", "align": "left", "baseline": "middle", "fontSize": 14},
       "encoding": {"x": {"field": "x", "type": "quantitative", "scale": {"domain": [260,600], "nice": false, "zero": false}}, "y": {"field": "I", "type": "quantitative", "scale": {"type": "log", "domain": [10,10000000], "nice": false}}, "text": {"field": "t"}}},
      {"data": {"values": [{"x": 303.6, "I": 4500000, "t": "FLA:55.5 J/cm²"}]},
       "mark": {"type": "text", "align": "left", "baseline": "middle", "fontSize": 14, "fontWeight": "bold"},
       "encoding": {"x": {"field": "x", "type": "quantitative", "scale": {"domain": [260,600], "nice": false, "zero": false}}, "y": {"field": "I", "type": "quantitative", "scale": {"type": "log", "domain": [10,10000000], "nice": false}}, "text": {"field": "t"}}},
      {"data": {"values": [{"x": 500.3, "I": 4300000, "t": "TO"}]},
       "mark": {"type": "text", "align": "center", "baseline": "middle", "fontSize": 18},
       "encoding": {"x": {"field": "x", "type": "quantitative", "scale": {"domain": [260,600], "nice": false, "zero": false}}, "y": {"field": "I", "type": "quantitative", "scale": {"type": "log", "domain": [10,10000000], "nice": false}}, "text": {"field": "t"}}},
      {"data": {"values": [{"x": 300.4, "I": 64600, "t": "2TA"}]},
       "mark": {"type": "text", "align": "center", "baseline": "middle", "fontSize": 17},
       "encoding": {"x": {"field": "x", "type": "quantitative", "scale": {"domain": [260,600], "nice": false, "zero": false}}, "y": {"field": "I", "type": "quantitative", "scale": {"type": "log", "domain": [10,10000000], "nice": false}}, "text": {"field": "t"}}},
      {"data": {"values": [{"x": 385.2, "I": 31000, "t": "Virgin Si"}]},
       "mark": {"type": "text", "align": "center", "baseline": "middle", "fontSize": 15, "fontWeight": "bold"},
       "encoding": {"x": {"field": "x", "type": "quantitative", "scale": {"domain": [260,600], "nice": false, "zero": false}}, "y": {"field": "I", "type": "quantitative", "scale": {"type": "log", "domain": [10,10000000], "nice": false}}, "text": {"field": "t"}}},
      {"data": {"values": [{"x": 383.2, "I": 2760, "t": "2×10¹⁵ cm⁻²"}, {"x": 382, "I": 340, "t": "1.2×10¹⁶ cm⁻²"}, {"x": 320, "I": 20, "t": "as-implanted"}]},
       "mark": {"type": "text", "align": "center", "baseline": "middle", "fontSize": 15},
       "encoding": {"x": {"field": "x", "type": "quantitative", "scale": {"domain": [260,600], "nice": false, "zero": false}}, "y": {"field": "I", "type": "quantitative", "scale": {"type": "log", "domain": [10,10000000], "nice": false}}, "text": {"field": "t"}}}
    ]
  },
  {"width": 62, "height": 222, "data": {"values": [{}]}, "mark": {"type": "point", "opacity": 0}},
  {
    "width": 139, "height": 222,
    "layer": [
      {"data": {"name": "dSi"}, "mark": {"type": "line", "strokeWidth": 1.8},
       "encoding": {
         "x": {"field": "e", "type": "quantitative", "scale": {"domain": [850,1012], "nice": false, "zero": false},
               "axis": {"values": [850,900,950,1000], "labelExpr": "datum.value == 900 || datum.value == 1000 ? datum.label : ''", "tickSize": 3, "labelPadding": 2, "title": "Energy (keV)", "titleX": 140, "titleAlign": "center", "titlePadding": 3, "format": "d"}},
         "y": {"field": "v", "type": "quantitative", "scale": {"domain": [-100,2000], "nice": false, "zero": false},
               "axis": {"values": [0,250,500,750,1000,1250,1500,1750,2000], "labelExpr": "datum.value % 500 == 0 ? datum.label : ''", "tickSize": {"condition": {"test": "datum.value % 500 != 0", "value": 3}, "value": 6}, "labelPadding": 2, "title": "Yield (counts)", "titlePadding": 0, "format": "d"}},
         "color": {"field": "s", "type": "nominal", "scale": {"domain": ["rnd","r","k","b","g"], "range": ["#800000","#ff0000","#000000","#0000ff","#1f8f1f"]}, "legend": null}
       }},
      {"data": {"values": [{}]}, "mark": {"type": "rule", "color": "black", "strokeWidth": 1.2},
       "encoding": {"x": {"datum": 850, "type": "quantitative", "scale": {"domain": [850,1012], "nice": false, "zero": false}}, "x2": {"datum": 1012}, "y": {"datum": 2000, "type": "quantitative", "scale": {"domain": [-100,2000], "nice": false, "zero": false}}}},
      {"data": {"name": "dSi"}, "transform": [{"filter": "datum.s == 'rnd'"}],
       "mark": {"type": "point", "shape": "circle", "filled": true, "size": 70, "opacity": 1},
       "encoding": {"x": {"field": "e", "type": "quantitative", "scale": {"domain": [850,1012], "nice": false, "zero": false}}, "y": {"field": "v", "type": "quantitative", "scale": {"domain": [-100,2000], "nice": false, "zero": false}}, "color": {"field": "s", "type": "nominal", "scale": {"domain": ["rnd","r","k","b","g"], "range": ["#800000","#ff0000","#000000","#0000ff","#1f8f1f"]}, "legend": null}}},
      {"data": {"name": "dSi"}, "transform": [{"filter": "datum.s == 'r' || datum.s == 'k' || datum.s == 'g'"}],
       "mark": {"type": "point", "shape": "circle", "filled": false, "fill": "white", "fillOpacity": 1, "size": 45, "strokeWidth": 1.6, "opacity": 1},
       "encoding": {"x": {"field": "e", "type": "quantitative", "scale": {"domain": [850,1012], "nice": false, "zero": false}}, "y": {"field": "v", "type": "quantitative", "scale": {"domain": [-100,2000], "nice": false, "zero": false}}, "color": {"field": "s", "type": "nominal", "scale": {"domain": ["rnd","r","k","b","g"], "range": ["#800000","#ff0000","#000000","#0000ff","#1f8f1f"]}, "legend": null}}},
      {"data": {"name": "dSi"}, "transform": [{"filter": "datum.s == 'b'"}],
       "mark": {"type": "point", "shape": "triangle-up", "filled": false, "fill": "white", "fillOpacity": 1, "size": 45, "strokeWidth": 1.6, "opacity": 1},
       "encoding": {"x": {"field": "e", "type": "quantitative", "scale": {"domain": [850,1012], "nice": false, "zero": false}}, "y": {"field": "v", "type": "quantitative", "scale": {"domain": [-100,2000], "nice": false, "zero": false}}, "color": {"field": "s", "type": "nominal", "scale": {"domain": ["rnd","r","k","b","g"], "range": ["#800000","#ff0000","#000000","#0000ff","#1f8f1f"]}, "legend": null}}},
      {"data": {"values": [{"e": 851.5, "v": 1873, "t": "(d)"}]},
       "mark": {"type": "text", "align": "left", "baseline": "middle", "fontSize": 11},
       "encoding": {"x": {"field": "e", "type": "quantitative", "scale": {"domain": [850,1012], "nice": false, "zero": false}}, "y": {"field": "v", "type": "quantitative", "scale": {"domain": [-100,2000], "nice": false, "zero": false}}, "text": {"field": "t"}}},
      {"data": {"values": [{"e": 866, "v": 1873, "t": "FLA:55.5 J/cm²"}]},
       "mark": {"type": "text", "align": "left", "baseline": "middle", "fontSize": 15, "fontWeight": "bold"},
       "encoding": {"x": {"field": "e", "type": "quantitative", "scale": {"domain": [850,1012], "nice": false, "zero": false}}, "y": {"field": "v", "type": "quantitative", "scale": {"domain": [-100,2000], "nice": false, "zero": false}}, "text": {"field": "t"}}},
      {"data": {"values": [{"e": 894.6, "v": 1594, "t": "Random"}]},
       "mark": {"type": "text", "align": "center", "baseline": "middle", "fontSize": 15, "fontWeight": "bold", "color": "#8b1c1c"},
       "encoding": {"x": {"field": "e", "type": "quantitative", "scale": {"domain": [850,1012], "nice": false, "zero": false}}, "y": {"field": "v", "type": "quantitative", "scale": {"domain": [-100,2000], "nice": false, "zero": false}}, "text": {"field": "t"}}},
      {"data": {"values": [{"e": 975.6, "v": 1368, "t": "Si"}]},
       "mark": {"type": "text", "align": "center", "baseline": "middle", "fontSize": 19, "fontWeight": "bold"},
       "encoding": {"x": {"field": "e", "type": "quantitative", "scale": {"domain": [850,1012], "nice": false, "zero": false}}, "y": {"field": "v", "type": "quantitative", "scale": {"domain": [-100,2000], "nice": false, "zero": false}}, "text": {"field": "t"}}},
      {"data": {"values": [{"v": 2000}, {"v": -55}]},
       "mark": {"type": "text", "align": "center", "baseline": "middle", "fontSize": 12, "dx": 3, "text": "//"},
       "encoding": {"x": {"datum": 1012, "type": "quantitative", "scale": {"domain": [850,1012], "nice": false, "zero": false}}, "y": {"field": "v", "type": "quantitative", "scale": {"domain": [-100,2000], "nice": false, "zero": false}}}}
    ]
  },
  {
    "width": 134, "height": 222,
    "layer": [
      {"data": {"name": "dTi"}, "mark": {"type": "line", "strokeWidth": 1.8},
       "encoding": {
         "x": {"field": "e", "type": "quantitative", "scale": {"domain": [1122,1359], "nice": false, "zero": false},
               "axis": {"values": [1200,1300], "labelExpr": "datum.value == 1200 ? '1200' : ''", "tickSize": 3, "labelPadding": 2, "title": null}},
         "y": {"field": "v", "type": "quantitative", "scale": {"domain": [-100,2000], "nice": false, "zero": false}, "axis": null},
         "color": {"field": "s", "type": "nominal", "scale": {"domain": ["rnd","r","k","b","g"], "range": ["#800000","#ff0000","#000000","#0000ff","#1f8f1f"]}, "legend": null}
       }},
      {"data": {"values": [{}]}, "mark": {"type": "rule", "color": "black", "strokeWidth": 1.2},
       "encoding": {"x": {"datum": 1122, "type": "quantitative", "scale": {"domain": [1122,1359], "nice": false, "zero": false}}, "x2": {"datum": 1359}, "y": {"datum": 2000, "type": "quantitative", "scale": {"domain": [-100,2000], "nice": false, "zero": false}, "axis": null}}},
      {"data": {"values": [{}]}, "mark": {"type": "rule", "color": "black", "strokeWidth": 1.2},
       "encoding": {"x": {"datum": 1359, "type": "quantitative", "scale": {"domain": [1122,1359], "nice": false, "zero": false}}, "y": {"datum": -100, "type": "quantitative", "scale": {"domain": [-100,2000], "nice": false, "zero": false}, "axis": null}, "y2": {"datum": 2000}}},
      {"data": {"name": "dTi"}, "transform": [{"filter": "datum.s == 'rnd'"}],
       "mark": {"type": "point", "shape": "circle", "filled": true, "size": 70, "opacity": 1},
       "encoding": {"x": {"field": "e", "type": "quantitative", "scale": {"domain": [1122,1359], "nice": false, "zero": false}}, "y": {"field": "v", "type": "quantitative", "scale": {"domain": [-100,2000], "nice": false, "zero": false}, "axis": null}, "color": {"field": "s", "type": "nominal", "scale": {"domain": ["rnd","r","k","b","g"], "range": ["#800000","#ff0000","#000000","#0000ff","#1f8f1f"]}, "legend": null}}},
      {"data": {"name": "dTi"}, "transform": [{"filter": "datum.s == 'r' || datum.s == 'k' || datum.s == 'g'"}],
       "mark": {"type": "point", "shape": "circle", "filled": false, "fill": "white", "fillOpacity": 1, "size": 45, "strokeWidth": 1.6, "opacity": 1},
       "encoding": {"x": {"field": "e", "type": "quantitative", "scale": {"domain": [1122,1359], "nice": false, "zero": false}}, "y": {"field": "v", "type": "quantitative", "scale": {"domain": [-100,2000], "nice": false, "zero": false}, "axis": null}, "color": {"field": "s", "type": "nominal", "scale": {"domain": ["rnd","r","k","b","g"], "range": ["#800000","#ff0000","#000000","#0000ff","#1f8f1f"]}, "legend": null}}},
      {"data": {"name": "dTi"}, "transform": [{"filter": "datum.s == 'b'"}],
       "mark": {"type": "point", "shape": "triangle-up", "filled": false, "fill": "white", "fillOpacity": 1, "size": 45, "strokeWidth": 1.6, "opacity": 1},
       "encoding": {"x": {"field": "e", "type": "quantitative", "scale": {"domain": [1122,1359], "nice": false, "zero": false}}, "y": {"field": "v", "type": "quantitative", "scale": {"domain": [-100,2000], "nice": false, "zero": false}, "axis": null}, "color": {"field": "s", "type": "nominal", "scale": {"domain": ["rnd","r","k","b","g"], "range": ["#800000","#ff0000","#000000","#0000ff","#1f8f1f"]}, "legend": null}}},
      {"data": {"values": [{"s": "r", "e": 1140, "e2": 1184, "v": 1698}, {"s": "k", "e": 1140, "e2": 1184, "v": 1487}, {"s": "b", "e": 1140, "e2": 1184, "v": 1305}, {"s": "g", "e": 1140, "e2": 1184, "v": 1123}]},
       "mark": {"type": "rule", "strokeWidth": 1.8},
       "encoding": {"x": {"field": "e", "type": "quantitative", "scale": {"domain": [1122,1359], "nice": false, "zero": false}}, "x2": {"field": "e2"}, "y": {"field": "v", "type": "quantitative", "scale": {"domain": [-100,2000], "nice": false, "zero": false}, "axis": null}, "color": {"field": "s", "type": "nominal", "scale": {"domain": ["rnd","r","k","b","g"], "range": ["#800000","#ff0000","#000000","#0000ff","#1f8f1f"]}, "legend": null}}},
      {"data": {"values": [{"s": "r", "e": 1162, "v": 1698}, {"s": "k", "e": 1162, "v": 1487}, {"s": "g", "e": 1162, "v": 1123}]},
       "mark": {"type": "point", "shape": "circle", "filled": false, "fill": "white", "fillOpacity": 1, "size": 45, "strokeWidth": 1.6, "opacity": 1},
       "encoding": {"x": {"field": "e", "type": "quantitative", "scale": {"domain": [1122,1359], "nice": false, "zero": false}}, "y": {"field": "v", "type": "quantitative", "scale": {"domain": [-100,2000], "nice": false, "zero": false}, "axis": null}, "color": {"field": "s", "type": "nominal", "scale": {"domain": ["rnd","r","k","b","g"], "range": ["#800000","#ff0000","#000000","#0000ff","#1f8f1f"]}, "legend": null}}},
      {"data": {"values": [{"s": "b", "e": 1162, "v": 1305}]},
       "mark": {"type": "point", "shape": "triangle-up", "filled": false, "fill": "white", "fillOpacity": 1, "size": 45, "strokeWidth": 1.6, "opacity": 1},
       "encoding": {"x": {"field": "e", "type": "quantitative", "scale": {"domain": [1122,1359], "nice": false, "zero": false}}, "y": {"field": "v", "type": "quantitative", "scale": {"domain": [-100,2000], "nice": false, "zero": false}, "axis": null}, "color": {"field": "s", "type": "nominal", "scale": {"domain": ["rnd","r","k","b","g"], "range": ["#800000","#ff0000","#000000","#0000ff","#1f8f1f"]}, "legend": null}}},
      {"data": {"values": [{"e": 1143, "v": 1873, "t": "Channeling"}, {"e": 1188, "v": 1698, "t": "as-implanted"}, {"e": 1188, "v": 1123, "t": "Virgin Si"}]},
       "mark": {"type": "text", "align": "left", "baseline": "middle", "fontSize": 15, "fontWeight": "bold"},
       "encoding": {"x": {"field": "e", "type": "quantitative", "scale": {"domain": [1122,1359], "nice": false, "zero": false}}, "y": {"field": "v", "type": "quantitative", "scale": {"domain": [-100,2000], "nice": false, "zero": false}, "axis": null}, "text": {"field": "t"}}},
      {"data": {"values": [{"e": 1188, "v": 1487, "t": "1.2×10¹⁶ cm⁻²"}, {"e": 1188, "v": 1305, "t": "2×10¹⁵ cm⁻²"}]},
       "mark": {"type": "text", "align": "left", "baseline": "middle", "fontSize": 15},
       "encoding": {"x": {"field": "e", "type": "quantitative", "scale": {"domain": [1122,1359], "nice": false, "zero": false}}, "y": {"field": "v", "type": "quantitative", "scale": {"domain": [-100,2000], "nice": false, "zero": false}, "axis": null}, "text": {"field": "t"}}},
      {"data": {"values": [{"e": 1212, "v": 770, "t": "Ti"}]},
       "mark": {"type": "text", "align": "center", "baseline": "middle", "fontSize": 16},
       "encoding": {"x": {"field": "e", "type": "quantitative", "scale": {"domain": [1122,1359], "nice": false, "zero": false}}, "y": {"field": "v", "type": "quantitative", "scale": {"domain": [-100,2000], "nice": false, "zero": false}, "axis": null}, "text": {"field": "t"}}},
      {"data": {"values": [{"e": 1310, "v": 392, "t": "3"}]},
       "mark": {"type": "text", "align": "center", "baseline": "middle", "fontSize": 16, "fontWeight": "bold"},
       "encoding": {"x": {"field": "e", "type": "quantitative", "scale": {"domain": [1122,1359], "nice": false, "zero": false}}, "y": {"field": "v", "type": "quantitative", "scale": {"domain": [-100,2000], "nice": false, "zero": false}, "axis": null}, "text": {"field": "t"}}},
      {"data": {"values": [{"e": 1294, "v": 382, "t": "×"}]},
       "mark": {"type": "text", "align": "center", "baseline": "middle", "fontSize": 11},
       "encoding": {"x": {"field": "e", "type": "quantitative", "scale": {"domain": [1122,1359], "nice": false, "zero": false}}, "y": {"field": "v", "type": "quantitative", "scale": {"domain": [-100,2000], "nice": false, "zero": false}, "axis": null}, "text": {"field": "t"}}}
    ]
  }
]
}
